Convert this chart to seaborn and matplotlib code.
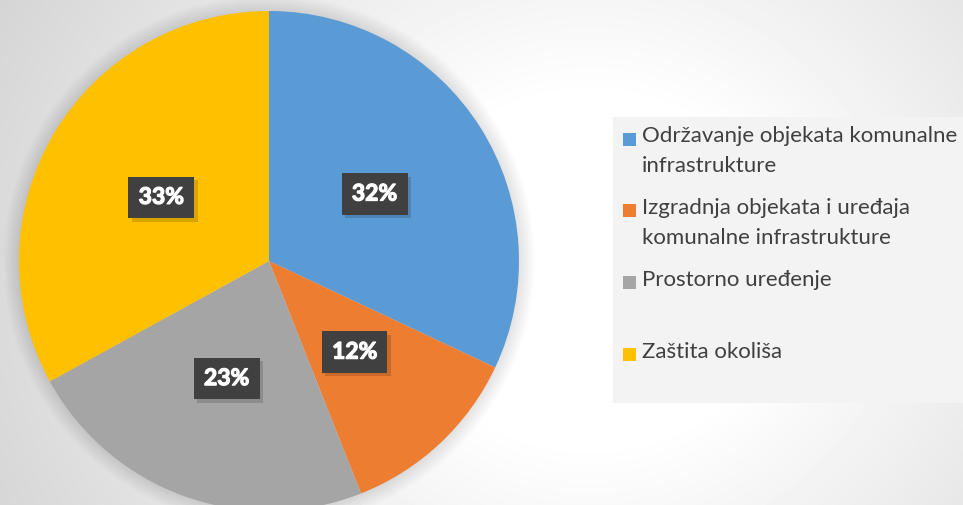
import numpy as np
import matplotlib
matplotlib.use("Agg")
import matplotlib.pyplot as plt
import matplotlib.patheffects as pe
from matplotlib.patches import Rectangle, Circle
import seaborn as sns

# DATA
categories = [
    "Održavanje objekata komunalne\ninfrastrukture",
    "Izgradnja objekata i uređaja\nkomunalne infrastrukture",
    "Prostorno uređenje",
    "Zaštita okoliša",
]
shares = [32, 12, 23, 33]
colors = ["#5B9BD5", "#ED7D31", "#A5A5A5", "#FFC000"]

sns.set_theme(style="white")
plt.rcParams["font.family"] = ["Lato", "DejaVu Sans"]

W, H = 963, 505
fig = plt.figure(figsize=(W / 100, H / 100), dpi=100)

# BACKGROUND (radial gradient)
bg = fig.add_axes([0, 0, 1, 1], zorder=0)
yy, xx = np.mgrid[0:H, 0:W]
d = np.hypot(xx - 590, (yy - 270) * 1.1)
t = np.clip((d - 190) / 480, 0, 1)
shade = 1 - 0.17 * t
bg.imshow(shade, cmap="gray", vmin=0, vmax=1, extent=[0, W, H, 0], aspect="auto")
bg.set_xlim(0, W)
bg.set_ylim(H, 0)
bg.axis("off")

# legend box
bg.add_patch(Rectangle((613, 117), 360, 286, facecolor="#f3f3f3", edgecolor="none"))

# PIE
ax = fig.add_axes([19 / W, -6 / H, 500 / W, 500 / H], zorder=1)
ax.patch.set_alpha(0)

# soft halo around the pie
for i in range(10):
    ax.add_patch(Circle((0, 0), 1 + i * 0.007, facecolor="black",
                        alpha=0.01, edgecolor="none", zorder=0, clip_on=False))

wedges, _, autotexts = ax.pie(
    shares,
    colors=colors,
    startangle=90,
    counterclock=False,
    autopct="%d%%",
    pctdistance=0.5,
    wedgeprops=dict(linewidth=0, zorder=2),
    textprops=dict(color="white", fontsize=16.5, fontweight="bold"),
)
for t_ in autotexts:
    t_.set_zorder(5)
    t_.set_path_effects([pe.withStroke(linewidth=0.9, foreground="white")])
    t_.set_bbox(dict(boxstyle="square,pad=0.45", facecolor="#404040", edgecolor="none"))
    t_.get_bbox_patch().set_path_effects([
        pe.SimplePatchShadow(offset=(2.5, -2.5), shadow_rgbFace="black", alpha=0.15),
        pe.Normal(),
    ])
ax.set_xlim(-1, 1)
ax.set_ylim(-1, 1)
ax.axis("off")

# LEGEND
for i, (lab, col) in enumerate(zip(categories, colors)):
    y0 = 139 + i * 71.7
    bg.add_patch(Rectangle((623, y0 - 6.5), 13, 13, facecolor=col, edgecolor="none"))
    bg.text(642, y0 - 12.5, lab, fontsize=16, color="#404040",
            va="top", ha="left", linespacing=1.62)

fig.savefig("out.png", dpi=100)
